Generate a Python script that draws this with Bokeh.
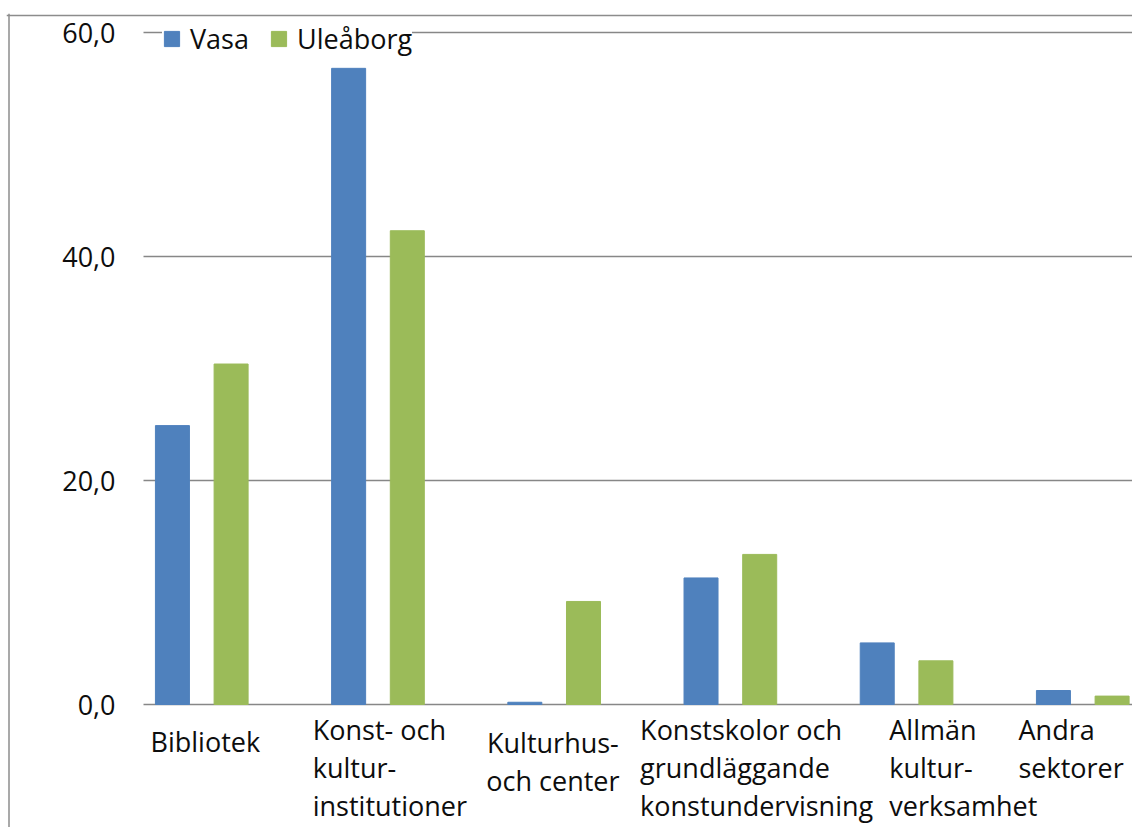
from bokeh.plotting import figure
from bokeh.models import Range1d, Span, ColumnDataSource
from bokeh.core.properties import value
from bokeh.embed import file_html
from bokeh.resources import INLINE

# ---- data ----
categories = ["Bibliotek", "Konst- och\nkultur-\ninstitutioner", "Kulturhus-\noch center",
              "Konstskolor och\ngrundläggande\nkonstundervisning", "Allmän\nkultur-\nverksamhet",
              "Andra\nsektorer"]
series_names = ["Vasa", "Uleåborg"]
vasa = [24.9, 56.8, 0.2, 11.3, 5.5, 1.25]
uleaborg = [30.4, 42.3, 9.2, 13.4, 3.9, 0.75]
y_ticks = [0, 20, 40, 60]

# ---- layout / style ----
FONT = "Open Sans"
FS = "27px"
W, H = 1132, 827
BLUE, GREEN = "#4F81BD", "#9BBB59"
GRAY = "#878787"
TXT = "#0d0d0d"
PX_X = 176.2   # px per category
PPU = 11.2     # px per y unit
FL, FT = 6, 13           # frame left / top (canvas px)
ZERO_Y, C0_X = 704, 201  # canvas px of y=0 and first category centre
PLOT_LEFT = 143          # canvas px where gridlines start

def dx(px):  # canvas px -> data x
    return (px - C0_X) / PX_X

def dy(px):  # canvas px -> data y
    return (ZERO_Y - px) / PPU

label_dx = [-51, -65, -1, -90, -17, -64]     # px offset of label from group centre
label_align = ["left", "left", "center", "left", "left", "left"]
label_top = [741, 729, 742, 729, 729, 729]    # px centre of first line
LINE_SP = 38

p = figure(width=W, height=H, output_backend="svg", toolbar_location=None,
           x_range=Range1d(dx(FL), dx(W)), y_range=Range1d(dy(H), dy(FT)),
           min_border_left=FL, min_border_right=0, min_border_top=FT, min_border_bottom=0)
p.axis.visible = False
p.grid.visible = False
p.outline_line_color = None
p.background_fill_color = "white"
p.border_fill_color = "white"

# chart-area border (top and left edges)
p.add_layout(Span(location=dy(15), dimension="width", line_color="#8c8c8c", line_width=1.5))
p.add_layout(Span(location=dx(8.5), dimension="height", line_color="#8c8c8c", line_width=1.5))

# gridlines
p.segment(x0=[dx(PLOT_LEFT)] * len(y_ticks), x1=[dx(W + 5)] * len(y_ticks),
          y0=y_ticks, y1=y_ticks, line_color=GRAY, line_width=1.5)

# y tick labels
p.text(x=[dx(PLOT_LEFT)] * len(y_ticks), y=y_ticks,
       text=[f"{t:.1f}".replace(".", ",") for t in y_ticks], x_offset=-28,
       text_align="right", text_baseline="middle", text_font=value(FONT),
       text_font_size=FS, text_color=TXT)

xs = list(range(len(categories)))
p.vbar(x=[x - 0.165 for x in xs], top=vasa, width=0.193, color=BLUE, legend_label=series_names[0])
p.vbar(x=[x + 0.168 for x in xs], top=uleaborg, width=0.193, color=GREEN, legend_label=series_names[1])

# category labels (one text per line)
lx, ly, lt, la, offs = [], [], [], [], []
for i, cat in enumerate(categories):
    for k, line in enumerate(cat.split("\n")):
        lx.append(xs[i])
        ly.append(dy(label_top[i] + k * LINE_SP))
        lt.append(line)
        la.append(label_align[i])
        offs.append(label_dx[i])
src = ColumnDataSource(dict(x=lx, y=ly, text=lt, align=la, off=offs))
p.text(x="x", y="y", text="text", x_offset="off", text_align="align", source=src,
       text_baseline="middle", text_font=value(FONT), text_font_size=FS, text_color=TXT)

leg = p.legend[0]
leg.orientation = "horizontal"
leg.location = (156, 770)
leg.padding = 12
leg.spacing = 20
leg.glyph_width = 19
leg.glyph_height = 19
leg.label_standoff = 9
leg.label_text_font = FONT
leg.label_text_font_size = FS
leg.label_text_color = TXT
leg.border_line_color = None
leg.background_fill_color = "white"
leg.background_fill_alpha = 1.0

open("out.html", "w").write(file_html(p, INLINE))
